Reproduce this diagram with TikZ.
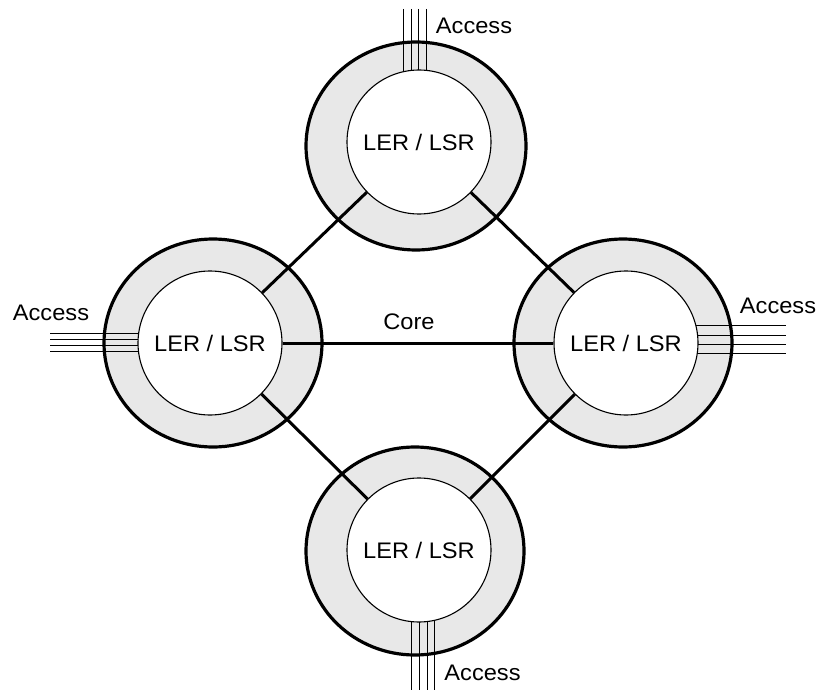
\documentclass[tikz,border=0pt]{standalone}
\usepackage{fontspec}
\setmainfont[FakeStretch=1.05]{Liberation Sans}
\usetikzlibrary{shapes.geometric}
\definecolor{ringgray}{RGB}{232,232,232}
\begin{document}
\begin{tikzpicture}[x=1pt,y=-1pt,
  outerring/.style={ellipse,draw=black,line width=3.2pt,fill=ringgray,minimum width=218pt,minimum height=208pt,inner sep=0pt},
  router/.style={circle,draw=black,line width=1.1pt,fill=white,minimum size=144pt,inner sep=0pt,font=\fontsize{22.5}{26}\selectfont},
  link/.style={line width=3pt},
  accline/.style={line width=0.9pt},
  lbl/.style={inner sep=0pt,font=\fontsize{22.5}{26}\selectfont}]
\useasboundingbox (0,0) rectangle (822,690);
% outer rings
\node[outerring,minimum width=220pt] (To) at (416,146) {};
\node[outerring] (Lo) at (213,343) {};
\node[outerring] (Ro) at (623,343) {};
\node[outerring] (Bo) at (415,551) {};
% routers
\node[router] (T) at (419,142) {LER / LSR};
\node[router] (L) at (210,343) {LER / LSR};
\node[router] (R) at (626,343) {LER / LSR};
\node[router] (B) at (419,550) {LER / LSR};
% links
\draw[link] (T) -- (L);
\draw[link] (T) -- (R);
\draw[link] (L) -- (B);
\draw[link] (R) -- (B);
\draw[link] (L) -- (R);
\node[lbl] (core) at (409,322) {Core};
% access lines top
\draw[accline] (403,9) -- (403,71.8);
\draw[accline] (411,9) -- (411,70.5);
\draw[accline] (418,9) -- (418,70);
\draw[accline] (426,9) -- (426,70.4);
% access lines bottom
\draw[accline] (411,621.5) -- (411,690);
\draw[accline] (419,622) -- (419,690);
\draw[accline] (427,621.5) -- (427,690);
\draw[accline] (434,620.4) -- (434,690);
% access lines left
\draw[accline] (50,333.5) -- (138.6,333.5);
\draw[accline] (50,339.5) -- (138.1,339.5);
\draw[accline] (50,345.7) -- (138.1,345.7);
\draw[accline] (50,351.7) -- (138.5,351.7);
% access lines right
\draw[accline] (695.9,325.7) -- (786,325.7);
\draw[accline] (697.6,335) -- (786,335);
\draw[accline] (698,344.3) -- (786,344.3);
\draw[accline] (697.3,353.3) -- (786,353.3);
% labels
\node[lbl] (accT) at (474,26) {Access};
\node[lbl] (accL) at (51,313) {Access};
\node[lbl] (accR) at (778,306) {Access};
\node[lbl] (accB) at (482.5,673) {Access};
\end{tikzpicture}
\end{document}
